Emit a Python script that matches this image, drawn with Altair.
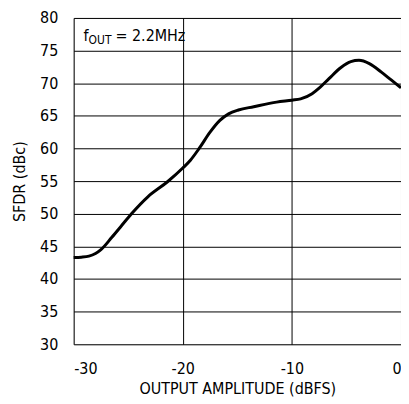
import altair as alt
import pandas as pd

amp = [-30, -29.3, -28.6, -28.0, -27.5, -26.5, -25.6, -24.7, -23.2, -21.4, -20, -19.3, -18.5, -17.5, -16.6, -15.8, -14.9, -13.5, -11.4, -10, -9.2, -8.15, -7.4, -6.6, -5.5, -4.6, -3.85, -2.9, -1.8, -0.9, 0]
sfdr = [43.3, 43.35, 43.5, 43.9, 44.5, 46.4, 48.2, 50.0, 52.6, 54.9, 57.0, 58.2, 60.0, 62.5, 64.3, 65.3, 65.9, 66.4, 67.1, 67.4, 67.6, 68.4, 69.4, 70.7, 72.4, 73.3, 73.5, 73.0, 71.7, 70.5, 69.3]

df = pd.DataFrame({"amp": amp, "sfdr": sfdr})

FONT = "'Liberation Sans Narrow', 'DejaVu Sans Condensed', 'Arial Narrow', sans-serif"
FS = 16

line = alt.Chart(df).mark_line(color="black", strokeWidth=3, interpolate="monotone").encode(
    x=alt.X("amp:Q", scale=alt.Scale(domain=[-30, 0], nice=False),
            axis=alt.Axis(values=[-30, -20, -10, 0], title="OUTPUT AMPLITUDE (dBFS)",
                          labelExpr="datum.value + ''",
                          grid=True, gridColor="black", gridOpacity=1, gridWidth=1,
                          ticks=False, domain=False, labelFont=FONT, labelFontSize=FS,
                          labelColor="black", labelPadding=16, titleFont=FONT,
                          titleFontSize=FS, titleFontWeight="normal", titleColor="black",
                          titleY=49, titleBaseline="alphabetic")),
    y=alt.Y("sfdr:Q", scale=alt.Scale(domain=[30, 80], nice=False),
            axis=alt.Axis(values=list(range(30, 81, 5)), title="SFDR (dBc)",
                          grid=True, gridColor="black", gridOpacity=1, gridWidth=1,
                          ticks=False, domain=False, labelFont=FONT, labelFontSize=FS,
                          labelColor="black", labelPadding=16, titleFont=FONT,
                          titleFontSize=FS, titleFontWeight="normal", titleColor="black",
                          titleX=-49, titleY=164, titleAngle=-90, titleAlign="center",
                          titleBaseline="alphabetic")),
)

lab = pd.DataFrame({"t": ["f"]})
t1 = alt.Chart(lab).mark_text(font=FONT, fontSize=FS, align="left", baseline="alphabetic", color="black").encode(
    x=alt.value(10), y=alt.value(23), text="t:N")
lab2 = pd.DataFrame({"t": ["OUT"]})
t2 = alt.Chart(lab2).mark_text(font=FONT, fontSize=12, align="left", baseline="alphabetic", color="black").encode(
    x=alt.value(15), y=alt.value(26), text="t:N")
lab3 = pd.DataFrame({"t": ["= 2.2MHz"]})
t3 = alt.Chart(lab3).mark_text(font=FONT, fontSize=FS, align="left", baseline="alphabetic", color="black").encode(
    x=alt.value(42), y=alt.value(23), text="t:N")

chart = alt.layer(line, t1, t2, t3).properties(
    width=329, height=328,
    autosize=alt.AutoSizeParams(type="none"),
    padding={"left": 66, "top": 9, "right": 0, "bottom": 53},
).configure_view(stroke="black", strokeWidth=3).configure(background="white")

chart.save("out.html", embed_options={"renderer": "svg", "actions": False})
